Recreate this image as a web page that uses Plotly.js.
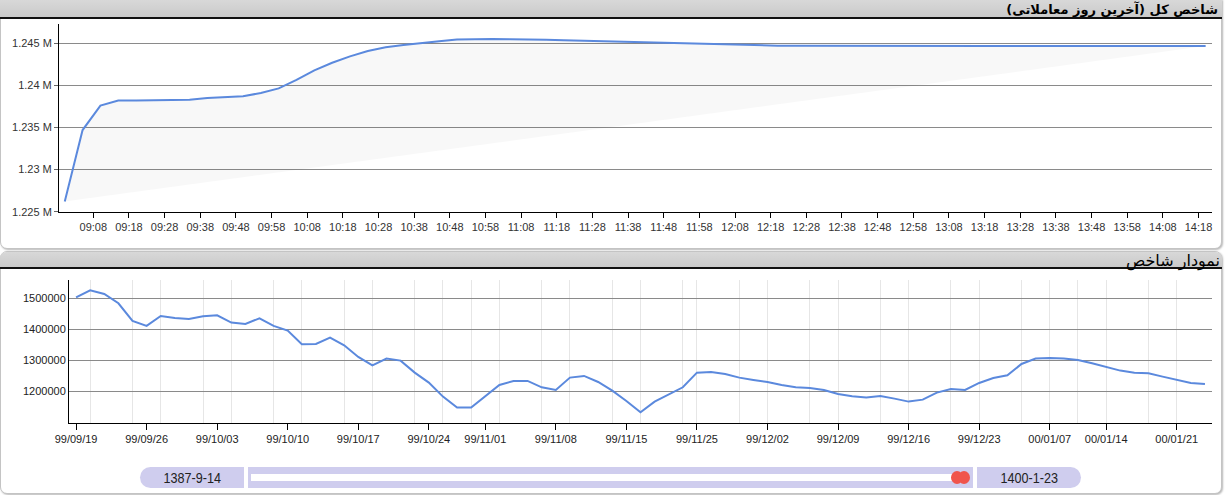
<!DOCTYPE html>
<html>
<head>
<meta charset="utf-8">
<script src="https://cdn.plot.ly/plotly-3.0.1.min.js"></script>
<style>
  html, body { margin:0; padding:0; background:#fff; }
  body { width:1228px; height:495px; overflow:hidden; position:relative; font-family: Arial, "Liberation Sans", sans-serif; }
  .panel { position:absolute; border:1px solid #c4c4c4; border-radius:0 0 7px 7px; box-shadow:1px 1px 2px #b8b8b8; background:#fff; }
  .hdr { position:absolute; left:0; background:linear-gradient(#d8d8d8,#cacaca); border-bottom:2px solid #111; direction:rtl; text-align:right; color:#000; font-family:"DejaVu Sans", sans-serif; }
  #chart { position:absolute; left:0; top:0; width:1228px; height:495px; }
  .sl { position:absolute; background:#cfcdee; }
  .lbl { font-family:"Liberation Sans Narrow", "Arial Narrow", Arial, sans-serif; font-size:15px; color:#222; text-align:center; line-height:21px; }
  .lbl span { display:inline-block; transform:scaleX(0.84); }
  .knob { position:absolute; background:#f0544c; border-radius:50%; width:12px; height:13px; top:471px; }
</style>
</head>
<body>
<div class="panel" style="left:0;top:-1px;width:1220px;height:248px;border-radius:0 0 7px 7px;"></div>
<div class="hdr" style="top:0;width:1222px;height:17px;font-size:13px;font-weight:bold;line-height:19px;"><span style="margin-right:4px">شاخص کل (آخرین روز معاملاتی)</span></div>
<div class="panel" style="left:0;top:251px;width:1220px;height:241px;border-radius:7px 7px 7px 7px;"></div>
<div class="hdr" style="top:252px;width:1222px;height:15px;font-size:16px;line-height:17px;border-radius:6px 6px 0 0;"><span style="margin-right:2px">نمودار شاخص</span></div>

<div class="sl lbl" style="left:140px;top:467px;width:104px;height:21px;border-radius:11px 0 0 11px;"><span>1387-9-14</span></div>
<div class="sl" style="left:248px;top:467px;width:725px;height:21px;"></div>
<div style="position:absolute;left:251px;top:474px;width:706px;height:7px;background:#fff;"></div>
<div class="knob" style="left:951px;"></div>
<div class="knob" style="left:958px;"></div>
<div class="sl lbl" style="left:977px;top:467px;width:104px;height:21px;border-radius:0 11px 11px 0;"><span>1400-1-23</span></div>

<div id="chart"></div>
<script>
// ---- Top chart: intraday index (last trading day) ----
const intradayTimes = [
  "09:00","09:05","09:10","09:15","09:20","09:25","09:30","09:35","09:40","09:45",
  "09:50","09:55","10:00","10:05","10:10","10:15","10:20","10:25","10:30","10:35",
  "10:40","10:45","10:50","10:55","11:00","11:05","11:10","11:15","11:20","11:25",
  "11:30","11:35","11:40","11:45","11:50","11:55","12:00","12:05","12:10","12:15",
  "12:20","12:25","12:30","12:35","12:40","12:45","12:50","12:55","13:00","13:05",
  "13:10","13:15","13:20","13:25","13:30","13:35","13:40","13:45","13:50","13:55",
  "14:00","14:05","14:10","14:15","14:20"
];
const intradayValues = [
  1226200,1234700,1237600,1238200,1238220,1238250,1238270,1238300,1238520,1238620,
  1238720,1239100,1239650,1240650,1241800,1242700,1243450,1244100,1244550,1244800,
  1245050,1245250,1245450,1245520,1245520,1245480,1245480,1245420,1245360,1245300,
  1245250,1245220,1245160,1245100,1245030,1244950,1244870,1244810,1244770,1244740,
  1244720,1244710,1244700,1244700,1244700,1244700,1244700,1244700,1244700,1244690,
  1244690,1244690,1244690,1244690,1244690,1244690,1244690,1244690,1244685,1244685,
  1244685,1244685,1244680,1244680,1244680
];
const topTickVals = [1225000,1230000,1235000,1240000,1245000];
const topTickText = ["1.225 M","1.23 M","1.235 M","1.24 M","1.245 M"];

// ---- Bottom chart: daily index ----
const dailyValues = [
  1503200,1525800,1514000,1483900,1426900,1410800,1443000,1436600,1433300,1441900,
  1445200,1421500,1417200,1435500,1410800,1395700,1351600,1352700,1373100,1348400,
  1310800,1283900,1305400,1298900,1260200,1228000,1182800,1147300,1147300,1182800,
  1220400,1233300,1233300,1212900,1204300,1244100,1249500,1230100,1202200,1168800,
  1132300,1166700,1190300,1212900,1260200,1262400,1255900,1244100,1236600,1230100,
  1220400,1212900,1210800,1204300,1191400,1183900,1179600,1185000,1176300,1166700,
  1173100,1195700,1207500,1204300,1226900,1243000,1251600,1288200,1305400,1307500,
  1305400,1301100,1290300,1279600,1266700,1260200,1258100,1247300,1236600,1226900,
  1223700
];
const dateLabels = ["99/09/19","99/09/26","99/10/03","99/10/10","99/10/17","99/10/24","99/11/01",
  "99/11/08","99/11/15","99/11/25","99/12/02","99/12/09","99/12/16","99/12/23","00/01/07","00/01/14","00/01/21"];
const dateLabelIdx = [0,5,10,15,20,25,29,34,39,44,49,54,59,64,69,73,78];
const vGridIdx = [1,4,6,9,11,14,16,19,21,24,26,28,30,33,35,38,40,43,44,47,49,52,54,57,59,62,64,67,69,71,73,76,78];
const bottomTickVals = [1200000,1300000,1400000,1500000];

const lineColor = '#5b89dd';
const W = 1228, H = 495;
const day = '2021-01-01 ';

const traces = [
  {
    x: intradayTimes.map(t => day + t), y: intradayValues,
    xaxis:'x', yaxis:'y', type:'scatter', mode:'lines',
    line:{color:lineColor, width:2}, fill:'toself', fillcolor:'rgba(0,0,0,0.028)',
    hoverinfo:'skip'
  },
  {
    x: dailyValues.map((_, i) => i), y: dailyValues,
    xaxis:'x2', yaxis:'y2', type:'scatter', mode:'lines',
    line:{color:lineColor, width:2}, hoverinfo:'skip'
  }
];

const layout = {
  width:W, height:H, margin:{l:0,r:0,t:0,b:0},
  paper_bgcolor:'rgba(0,0,0,0)', plot_bgcolor:'rgba(0,0,0,0)',
  showlegend:false,
  font:{family:'Arial, "Liberation Sans", sans-serif', size:11, color:'#222'},
  xaxis:{
    domain:[59/W, 1212/W], anchor:'y', type:'date',
    range:[day+'08:58:23', day+'14:21:47'],
    tick0: day+'09:08', dtick:600000, tickformat:'%H:%M',
    ticks:'outside', ticklen:5, tickcolor:'#000', tickwidth:1,
    showline:true, linecolor:'#000', linewidth:1, showgrid:false, zeroline:false,
    tickfont:{size:11, color:'#333'}, fixedrange:true
  },
  yaxis:{
    domain:[(H-211.7)/H, (H-24)/H], anchor:'x',
    range:[1225000, 1247300],
    tickmode:'array', tickvals:topTickVals, ticktext:topTickText,
    ticks:'outside', ticklen:4, tickcolor:'#666',
    showline:true, linecolor:'#000', linewidth:1,
    showgrid:true, gridcolor:'#8a8a8a', gridwidth:1, zeroline:false,
    tickfont:{size:11, color:'#333'}, fixedrange:true
  },
  xaxis2:{
    domain:[69/W, 1212/W], anchor:'y2',
    range:[-0.5, 80.5],
    tickmode:'array', tickvals:dateLabelIdx, ticktext:dateLabels,
    ticks:'outside', ticklen:6, tickcolor:'#000',
    showline:true, linecolor:'#000', linewidth:1, showgrid:false, zeroline:false,
    minor:{tickmode:'array', tickvals:vGridIdx, showgrid:true, gridcolor:'#e6e6e6', gridwidth:1, ticks:''},
    tickfont:{size:11, color:'#222'}, fixedrange:true
  },
  yaxis2:{
    domain:[(H-423)/H, (H-280)/H], anchor:'x2',
    range:[1097700, 1559000],
    tickmode:'array', tickvals:bottomTickVals, tickformat:'d',
    ticks:'', showline:true, linecolor:'#000', linewidth:1,
    showgrid:true, gridcolor:'#8a8a8a', gridwidth:1, zeroline:false,
    tickfont:{size:11, color:'#222'}, fixedrange:true
  }
};

Plotly.newPlot('chart', traces, layout, {displayModeBar:false, staticPlot:true});
</script>
</body>
</html>
